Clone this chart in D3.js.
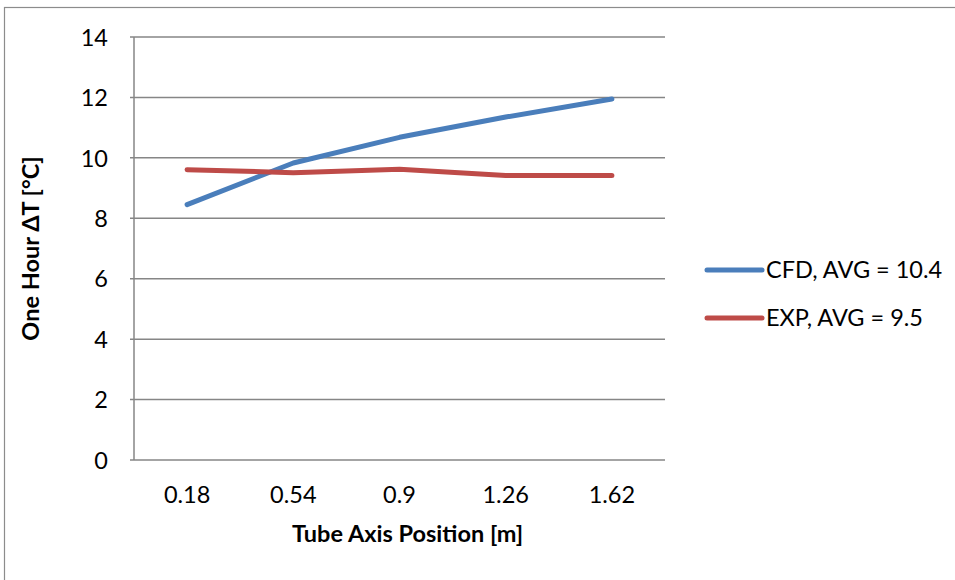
<!DOCTYPE html>
<html>
<head>
<meta charset="utf-8">
<script src="https://cdn.jsdelivr.net/npm/d3@7"></script>
<style>
  html, body { margin: 0; padding: 0; background: #fff; }
  svg { display: block; }
  text { font-family: Lato, "Open Sans", "Noto Sans", sans-serif; fill: #000; }
</style>
</head>
<body>
<svg id="chart" width="955" height="580"></svg>
<script>
// Tube axis positions and one-hour temperature rise per series
const positions = ["0.18", "0.54", "0.9", "1.26", "1.62"];
const cfdValues = [8.45, 9.83, 10.68, 11.35, 11.95];
const expValues = [9.61, 9.51, 9.62, 9.42, 9.42];
const seriesNames = ["CFD, AVG = 10.4", "EXP, AVG = 9.5"];
const seriesColors = ["#4A7EBB", "#BE4B48"];
const yTicks = [0, 2, 4, 6, 8, 10, 12, 14];

const svg = d3.select("#chart");
const W = 955, H = 580;
const plot = { left: 134, right: 665, top: 37, bottom: 460 };
const fontSize = "23.5px";

// outer chart frame
svg.append("rect")
  .attr("x", 4.5).attr("y", 7.5)
  .attr("width", W + 10).attr("height", H + 10)
  .attr("fill", "none").attr("stroke", "#8c8c8c").attr("stroke-width", 1.2);

const x = d3.scaleBand().domain(positions).range([plot.left, plot.right]);
const y = d3.scaleLinear().domain([0, 14]).range([plot.bottom, plot.top]);

// horizontal gridlines
svg.append("g")
  .selectAll("line")
  .data(yTicks)
  .join("line")
  .attr("x1", plot.left - 4).attr("x2", plot.right)
  .attr("y1", d => y(d)).attr("y2", d => y(d))
  .attr("stroke", "#868686").attr("stroke-width", 1.5);

// y axis line
svg.append("line")
  .attr("x1", plot.left).attr("x2", plot.left)
  .attr("y1", plot.top).attr("y2", plot.bottom)
  .attr("stroke", "#868686").attr("stroke-width", 1.5);

// y tick labels
const yAxis = d3.axisLeft(y).tickValues(yTicks).tickSize(0).tickPadding(0).tickFormat(d3.format("d"));
const gy = svg.append("g").attr("transform", `translate(${plot.left - 26},0)`).call(yAxis);
gy.select(".domain").remove();
gy.selectAll("text").style("font-size", fontSize).attr("fill", "#000")
  .attr("font-family", "Lato, 'Open Sans', sans-serif").attr("dy", "0.35em");

// x tick labels
const xAxis = d3.axisBottom(x).tickSize(0).tickPadding(0);
const gx = svg.append("g").attr("transform", `translate(0,${plot.bottom + 35})`).call(xAxis);
gx.select(".domain").remove();
gx.selectAll("text").style("font-size", fontSize).attr("fill", "#000")
  .attr("font-family", "Lato, 'Open Sans', sans-serif").attr("dy", "0.35em");

// axis titles
svg.append("text")
  .attr("x", (plot.left + plot.right) / 2 + 8).attr("y", 536)
  .attr("text-anchor", "middle").attr("dominant-baseline", "middle")
  .style("font-size", fontSize).style("font-weight", "bold")
  .text("Tube Axis Position [m]");

svg.append("text")
  .attr("transform", `translate(33,${(plot.top + plot.bottom) / 2}) rotate(-90)`)
  .attr("text-anchor", "middle").attr("dominant-baseline", "middle")
  .style("font-size", fontSize).style("font-weight", "bold")
  .text("One Hour ΔT [°C]");

// series lines
const line = d3.line()
  .x((d, i) => x(positions[i]) + x.bandwidth() / 2)
  .y(d => y(d));

[cfdValues, expValues].forEach((vals, k) => {
  svg.append("path")
    .datum(vals)
    .attr("d", line)
    .attr("fill", "none")
    .attr("stroke", seriesColors[k])
    .attr("stroke-width", 5)
    .attr("stroke-linecap", "round")
    .attr("stroke-linejoin", "round");
});

// legend
const legend = svg.append("g").attr("transform", "translate(707,270)");
seriesNames.forEach((name, k) => {
  const g = legend.append("g").attr("transform", `translate(0,${k * 48})`);
  g.append("line")
    .attr("x1", 0).attr("x2", 55).attr("y1", 0).attr("y2", 0)
    .attr("stroke", seriesColors[k]).attr("stroke-width", 5)
    .attr("stroke-linecap", "round");
  g.append("text")
    .attr("x", 59).attr("y", 0).attr("dy", "0.35em")
    .style("font-size", fontSize)
    .text(name);
});
</script>
</body>
</html>
